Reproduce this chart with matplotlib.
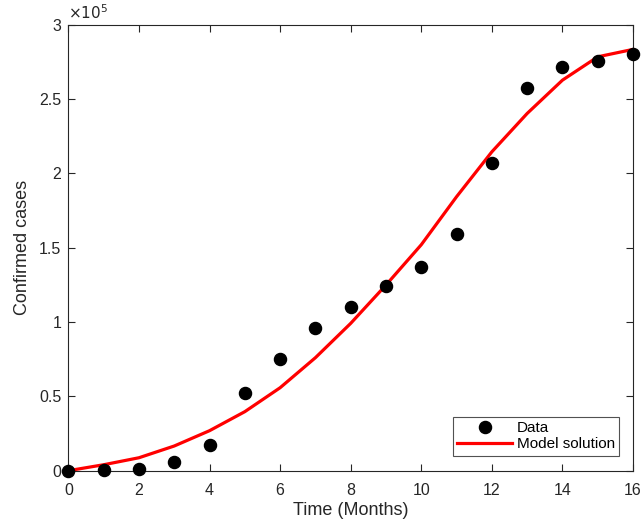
import numpy as np
import matplotlib
matplotlib.use("Agg")
import matplotlib.pyplot as plt
from matplotlib.ticker import FuncFormatter

plt.rcParams["font.family"] = ["Liberation Sans", "DejaVu Sans"]

# observed monthly confirmed cases
months = [0, 1, 2, 3, 4, 5, 6, 7, 8, 9, 10, 11, 12, 13, 14, 15, 16]
data_cases = [0, 200, 1100, 5600, 17300, 52000, 75100, 96000, 110000, 124200,
              137200, 159000, 206900, 257200, 271300, 275700, 280200]
# fitted model
model_cases = [0, 4000, 8700, 16600, 26900, 39700, 55800, 76000, 99100, 124900,
               152000, 184300, 214500, 240300, 262700, 278400, 283400]

fig = plt.figure(figsize=(6.41, 5.30), dpi=100)
ax = fig.add_axes([0.1066, 0.1119, 0.881, 0.8415])

ax.plot(months, data_cases, "o", color="k", markersize=8.7, label="Data",
        zorder=3, clip_on=False)
ax.plot(months, model_cases, "-", color="r", linewidth=2.3, label="Model solution", zorder=2)

ax.set_xlim(0, 16)
ax.set_ylim(0, 3e5)
ax.set_xticks(range(0, 17, 2))
ax.set_yticks(np.arange(0, 3.01e5, 0.5e5))
ax.yaxis.set_major_formatter(FuncFormatter(lambda v, p: f"{v / 1e5:g}"))

axc = "#262626"
for s in ax.spines.values():
    s.set_color(axc)
    s.set_linewidth(0.8)
ax.tick_params(direction="in", length=5, width=0.8, colors=axc, labelsize=11.5,
               top=True, right=True, labelcolor=axc)
ax.tick_params(axis="x", pad=9)
ax.tick_params(axis="y", pad=5)

ax.text(0.0, 1.005, r"$\times10^{5}$", transform=ax.transAxes, fontsize=11,
        color=axc, ha="left", va="bottom")

ax.set_xlabel("Time (Months)", fontsize=13, color=axc, labelpad=3)
ax.set_ylabel("Confirmed cases", fontsize=13, color=axc, labelpad=6)

leg = ax.legend(loc="lower right", bbox_to_anchor=(0.9757, 0.033), fontsize=11,
                frameon=True, fancybox=False, borderpad=0.3, handlelength=3.6,
                handletextpad=0.27, labelspacing=0.15, borderaxespad=0)
leg.get_frame().set_edgecolor(axc)
leg.get_frame().set_linewidth(0.8)

fig.savefig("out.png", dpi=100)
